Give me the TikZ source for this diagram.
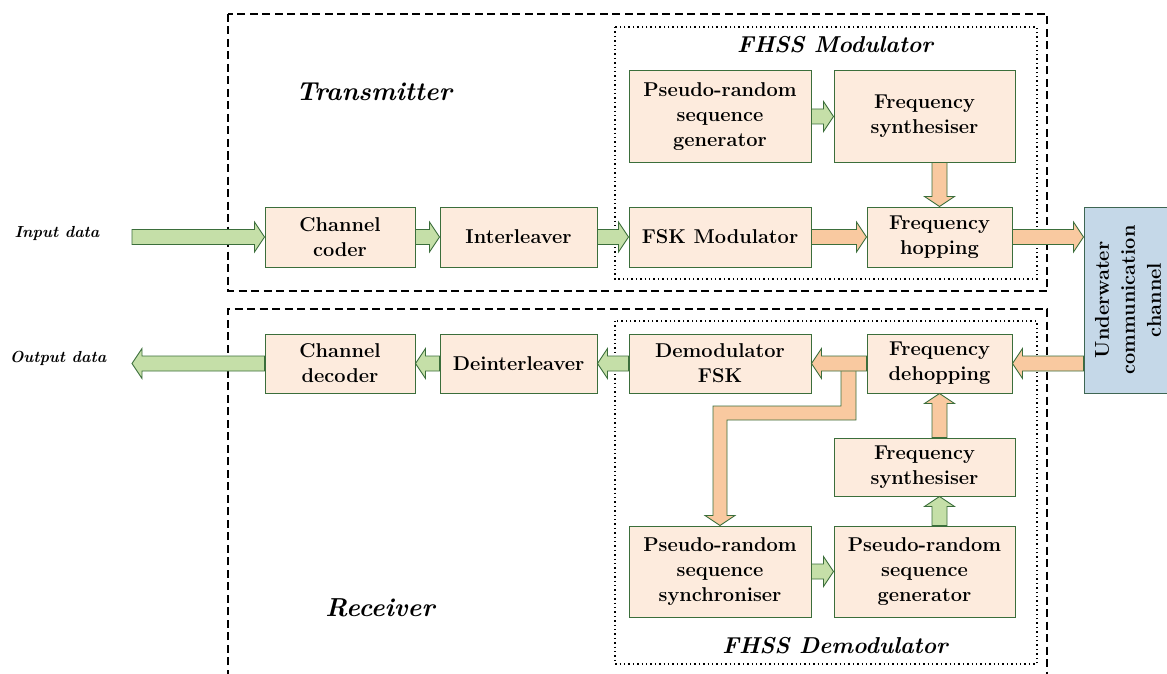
\documentclass[tikz,border=0pt]{standalone}
\usetikzlibrary{calc}
\definecolor{blockfill}{HTML}{FDEBDD}
\definecolor{blockline}{HTML}{3B6E3B}
\definecolor{greenfill}{HTML}{C5DFA8}
\definecolor{orangefill}{HTML}{F9C9A0}
\definecolor{bluefill}{HTML}{C5D8E8}
\definecolor{blueline}{HTML}{3E6653}
\tikzset{
  blk/.style={draw=blockline, fill=blockfill, line width=1pt, align=center,
    font=\fontsize{20}{25}\selectfont\bfseries, inner sep=0pt},
  arrowbase/.style={draw=blockline, line width=0.9pt, line join=miter},
  grn/.style={arrowbase, fill=greenfill},
  org/.style={arrowbase, fill=orangefill},
  bigtitle/.style={font=\fontsize{26}{30}\selectfont\bfseries\itshape, inner sep=0pt},
  midtitle/.style={font=\fontsize{23}{28}\selectfont\bfseries\itshape, inner sep=0pt},
  sidelabel/.style={font=\fontsize{16}{20}\selectfont\bfseries\itshape, inner sep=0pt},
  dashbox/.style={line width=1.6pt, dash pattern=on 8pt off 4.5pt},
  dotbox/.style={line width=1.4pt, dash pattern=on 1.4pt off 3pt},
}
\newcommand\blockarrow[3]{%
  \path (#3) coordinate (ba-tip) ($(#3)!10pt!(#2)$) coordinate (ba-hb);
  \filldraw[#1] ($(#2)!7.5pt!90:(#3)$) -- ($(ba-hb)!7.5pt!-90:(#2)$)
    -- ($(ba-hb)!15pt!-90:(#2)$) -- (ba-tip) -- ($(ba-hb)!15pt!90:(#2)$)
    -- ($(ba-hb)!7.5pt!90:(#2)$) -- ($(#2)!7.5pt!-90:(#3)$) -- cycle;
}
\begin{document}
\begin{tikzpicture}[x=1pt,y=-1pt]
\useasboundingbox (0,0) rectangle (1167,674);

% frames
\draw[dashbox] (228,14) rectangle (1047,291);
\draw[dashbox] (228,690) -- (228,309) -- (1047,309) -- (1047,690);
\draw[dotbox] (615,27) rectangle (1037,279);
\draw[dotbox] (615,321) rectangle (1037,664);

% titles
\node[bigtitle] (tx) at (374,92) {Transmitter};
\node[bigtitle] (rx) at (380,608) {Receiver};
\node[midtitle] (fm) at (835,45) {FHSS Modulator};
\node[midtitle] (fd) at (835,646) {FHSS Demodulator};
\node[sidelabel] (inl) at (57,233) {Input data};
\node[sidelabel] (outl) at (58,358) {Output data};

% transmitter blocks
\node[blk, minimum width=182pt, minimum height=91pt] (pg1) at (720,116.5) {Pseudo-random\\sequence\\generator};
\node[blk, minimum width=181pt, minimum height=91pt] (fs1) at (924.5,116.5) {Frequency\\synthesiser};
\node[blk, minimum width=150pt, minimum height=60pt] (cc) at (340,237) {Channel\\coder};
\node[blk, minimum width=157pt, minimum height=60pt] (il) at (518.5,237) {Interleaver};
\node[blk, minimum width=182pt, minimum height=60pt] (fsk) at (720,237) {FSK Modulator};
\node[blk, minimum width=145pt, minimum height=60pt] (hop) at (939.5,237) {Frequency\\hopping};

% channel
\node[draw=blueline, fill=bluefill, line width=1pt, minimum width=92pt, minimum height=186pt,
  inner sep=0pt] (uw) at (1130,300) {};
\node[rotate=90, align=center, font=\fontsize{20}{26}\selectfont\bfseries, inner sep=0pt] (uwt) at (1128,300) {Underwater\\communication\\channel};

% receiver blocks
\node[blk, minimum width=150pt, minimum height=59pt] (cd) at (340,363.5) {Channel\\decoder};
\node[blk, minimum width=157pt, minimum height=59pt] (dil) at (518.5,363.5) {Deinterleaver};
\node[blk, minimum width=182pt, minimum height=59pt] (dem) at (720,363.5) {Demodulator\\FSK};
\node[blk, minimum width=145pt, minimum height=59pt] (dhop) at (939.5,363.5) {Frequency\\dehopping};
\node[blk, minimum width=181pt, minimum height=58pt] (fs2) at (924.5,467) {Frequency\\synthesiser};
\node[blk, minimum width=182pt, minimum height=91pt] (sync) at (720,571.5) {Pseudo-random\\sequence\\synchroniser};
\node[blk, minimum width=181pt, minimum height=91pt] (pg2) at (924.5,571.5) {Pseudo-random\\sequence\\generator};

% free ends and helper coordinates
\coordinate (inp) at (132,237);
\coordinate (outp) at (132,363.5);
\coordinate (fs1b) at (hop.north |- fs1.south);
\coordinate (uwin) at (uw.west |- hop.east);
\coordinate (uwout) at (uw.west |- dhop.east);
\coordinate (fs2t) at (dhop.south |- fs2.north);
\coordinate (fs2b) at (dhop.south |- fs2.south);
\coordinate (pg2t) at (dhop.south |- pg2.north);
\coordinate (br) at (848.5,371);
\coordinate (bl) at (sync.north |- br);

% transmitter connectors
\blockarrow{grn}{inp}{cc.west}
\blockarrow{grn}{cc.east}{il.west}
\blockarrow{grn}{il.east}{fsk.west}
\blockarrow{org}{fsk.east}{hop.west}
\blockarrow{grn}{pg1.east}{fs1.west}
\blockarrow{org}{fs1b}{hop.north}
\blockarrow{org}{hop.east}{uwin}

% branch to synchroniser
\filldraw[org] ($(br)+(-7.5,0)$) -- ($(br)+(-7.5,35)$) -- ($(bl)+(-7,35)$)
  -- ($(sync.north)+(-7,-10)$) -- ($(sync.north)+(-15,-10)$) -- (sync.north)
  -- ($(sync.north)+(15,-10)$) -- ($(sync.north)+(7,-10)$) -- ($(bl)+(7,49)$)
  -- ($(br)+(7.5,49)$) -- ($(br)+(7.5,0)$);

% receiver connectors
\blockarrow{org}{uwout}{dhop.east}
\blockarrow{org}{dhop.west}{dem.east}
\blockarrow{grn}{dem.west}{dil.east}
\blockarrow{grn}{dil.west}{cd.east}
\blockarrow{grn}{cd.west}{outp}
\blockarrow{org}{fs2t}{dhop.south}
\blockarrow{grn}{pg2t}{fs2b}
\blockarrow{grn}{sync.east}{pg2.west}
\end{tikzpicture}
\end{document}
